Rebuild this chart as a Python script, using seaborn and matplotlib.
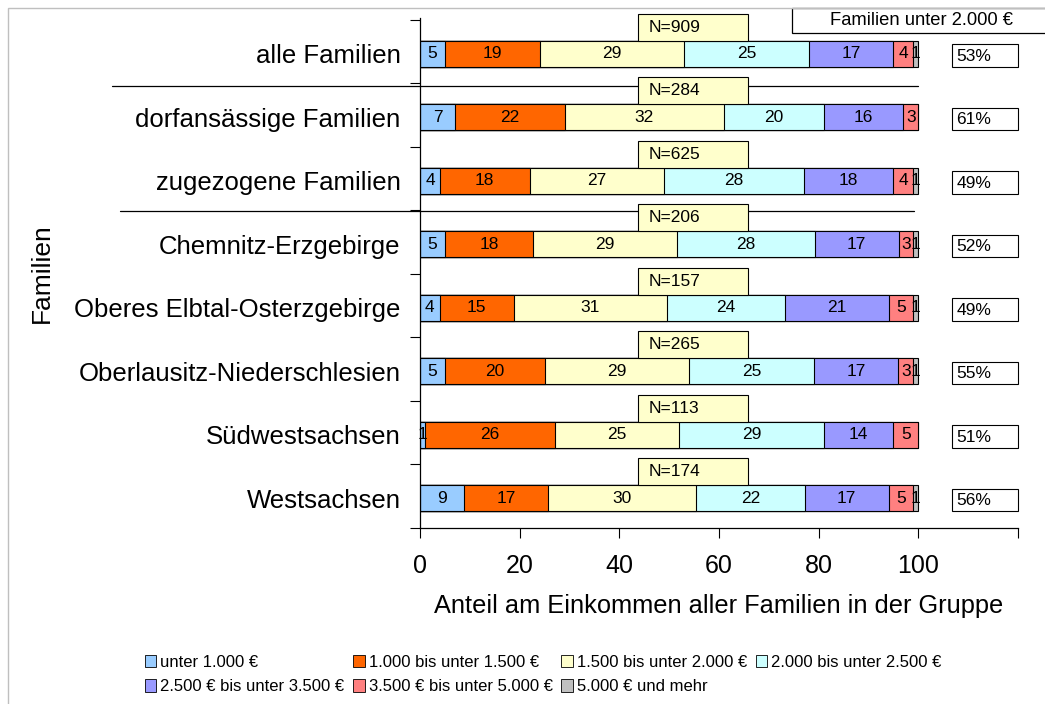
import numpy as np
import pandas as pd
import seaborn as sns
import matplotlib.pyplot as plt
from matplotlib.patches import Rectangle, Patch

# Daten
groups = ["alle Familien", "dorfansässige Familien", "zugezogene Familien",
          "Chemnitz-Erzgebirge", "Oberes Elbtal-Osterzgebirge",
          "Oberlausitz-Niederschlesien", "Südwestsachsen", "Westsachsen"]
classes = ["unter 1.000 €", "1.000 bis unter 1.500 €", "1.500 bis unter 2.000 €",
           "2.000 bis unter 2.500 €", "2.500 € bis unter 3.500 €",
           "3.500 € bis unter 5.000 €", "5.000 € und mehr"]
colors = ["#99CCFF", "#FF6600", "#FFFFCC", "#CCFFFF", "#9999FF", "#FF8080", "#C0C0C0"]

unter_1000 = [5, 7, 4, 5, 4, 5, 1, 9]
von_1000_1500 = [19, 22, 18, 18, 15, 20, 26, 17]
von_1500_2000 = [29, 32, 27, 29, 31, 29, 25, 30]
von_2000_2500 = [25, 20, 28, 28, 24, 25, 29, 22]
von_2500_3500 = [17, 16, 18, 17, 21, 17, 14, 17]
von_3500_5000 = [4, 3, 4, 3, 5, 3, 5, 5]
ab_5000 = [1, 0, 1, 1, 1, 1, 0, 1]

n_sizes = [909, 284, 625, 206, 157, 265, 113, 174]
share_below_2000 = [53, 61, 49, 52, 49, 55, 51, 56]

df = pd.DataFrame({"Gruppe": groups})
for name, col in zip(classes, [unter_1000, von_1000_1500, von_1500_2000, von_2000_2500,
                               von_2500_3500, von_3500_5000, ab_5000]):
    df[name] = col

vals = df[classes].to_numpy(float)
shares = vals / vals.sum(axis=1, keepdims=True) * 100
cum = shares.cumsum(axis=1)

sns.set_style("ticks")
plt.rcParams['font.family'] = ['Liberation Sans', 'DejaVu Sans']
plt.rcParams['text.color'] = 'black'
plt.rcParams['axes.labelcolor'] = 'black'
plt.rcParams['xtick.color'] = 'black'
plt.rcParams['ytick.color'] = 'black'

fig = plt.figure(figsize=(10.45, 7.04), dpi=100)
ax = fig.add_axes([420 / 1045, 1 - 528 / 704, 598 / 1045, 510 / 704])

bar_h = 0.41
# gestapelte Balken: kumulierte Summen von hinten nach vorn übereinander
for i in range(len(classes) - 1, -1, -1):
    sns.barplot(x=cum[:, i], y=groups, order=groups, orient="h",
                color=colors[i], saturation=1, width=bar_h,
                edgecolor="black", linewidth=0.8, errorbar=None, ax=ax)

for i in range(len(classes)):
    for j in range(len(groups)):
        if vals[j, i] > 0:
            ax.text(cum[j, i] - shares[j, i] / 2, j, f"{vals[j, i]:.0f}",
                    ha="center", va="center", fontsize=12.5, zorder=4)

# N-Kästchen und Anteil unter 2.000 €
for j in range(len(groups)):
    top = j - bar_h / 2
    ax.add_patch(Rectangle((43.8, top - 0.42), 22, 0.42, facecolor="#FFFFCC",
                           edgecolor="black", linewidth=0.8, clip_on=False, zorder=3))
    ax.text(45.8, top - 0.21, f"N={n_sizes[j]}", ha="left", va="center",
            fontsize=12.5, zorder=4, clip_on=False)
    ax.add_patch(Rectangle((106.8, j - 0.15), 13.2, 0.36, facecolor="white",
                           edgecolor="black", linewidth=0.8, clip_on=False, zorder=3))
    ax.text(107.6, j + 0.04, f"{share_below_2000[j]}%", ha="left", va="center",
            fontsize=12.5, zorder=4, clip_on=False)

# Trennlinien
ax.plot([-61.8, 100], [0.507, 0.507], color="black", linewidth=0.9, clip_on=False)
ax.plot([-60.2, 99.2], [2.483, 2.483], color="black", linewidth=0.9, clip_on=False)

ax.set_xlim(0, 120)
ax.set_ylim(len(groups) - 0.56, -0.56)
ax.set_xticks(np.arange(0, 121, 20))
ax.set_xticklabels(["0", "20", "40", "60", "80", "100", ""])
ax.set_yticks(range(len(groups)))
ax.set_yticklabels(groups)
ax.set_yticks(np.arange(-0.53, len(groups), 1), minor=True)
ax.tick_params(axis="y", which="major", length=0, pad=14, labelsize=18.5)
ax.tick_params(axis="y", which="minor", length=7, width=0.8, direction="out")
ax.tick_params(axis="x", length=7, width=0.8, pad=12, labelsize=18)
sns.despine(ax=ax)
for s in ["left", "bottom"]:
    ax.spines[s].set_color("black")
    ax.spines[s].set_linewidth(0.9)

ax.set_xlabel("Anteil am Einkommen aller Familien in der Gruppe", fontsize=18.3)
ax.xaxis.set_label_coords(0.5, -0.13)
ax.set_ylabel("Familien", fontsize=19)
ax.yaxis.set_label_coords(-0.612, 0.5)

# Kästchen oben rechts
fig.patches.append(Rectangle((792 / 1045, 1 - 33 / 704), 0.3, 25 / 704,
                             transform=fig.transFigure, facecolor="white",
                             edgecolor="black", linewidth=0.9))
fig.text(921 / 1045, 1 - 20.5 / 704, "Familien unter 2.000 €", ha="center",
         va="center", fontsize=13.2)

# Rahmen
fig.patches.append(Rectangle((8 / 1045, -0.02), 1.05, 1 - 8 / 704 + 0.02,
                             transform=fig.transFigure, fill=False,
                             edgecolor="#BFBFBF", linewidth=1))

handles = [Patch(facecolor=c, edgecolor="black", linewidth=0.6) for c in colors]
order = [0, 4, 1, 5, 2, 6, 3]
fig.legend([handles[k] for k in order], [classes[k] for k in order],
           loc="upper left", bbox_to_anchor=(138 / 1045, 1 - 648 / 704),
           ncol=4, frameon=False, fontsize=12, handlelength=0.7,
           handleheight=0.8, handletextpad=0.25, columnspacing=0.5,
           labelspacing=0.55, borderaxespad=0)

fig.savefig("out.png", dpi=100)
